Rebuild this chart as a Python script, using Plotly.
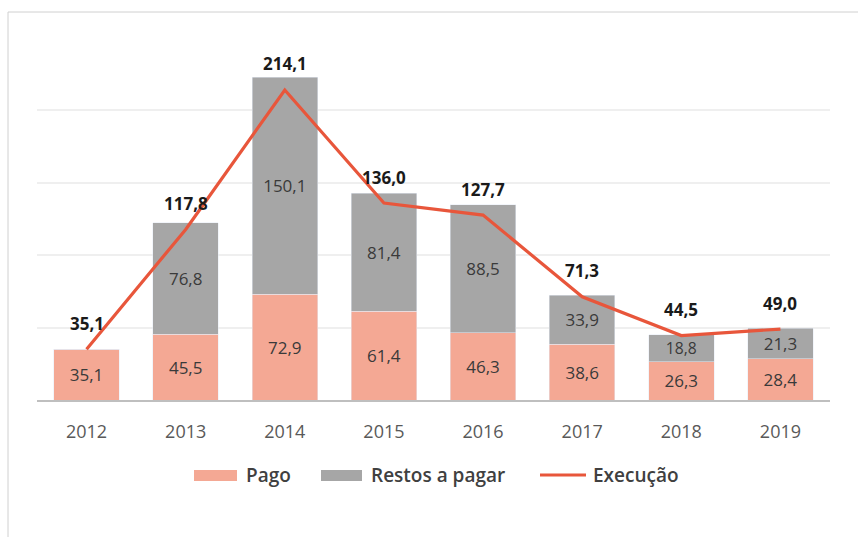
import plotly.graph_objects as go

anos = ["2012", "2013", "2014", "2015", "2016", "2017", "2018", "2019"]
pago = [35.1, 45.5, 72.9, 61.4, 46.3, 38.6, 26.3, 28.4]
restos = [0, 76.8, 150.1, 81.4, 88.5, 33.9, 18.8, 21.3]
execucao = [35.1, 117.8, 214.1, 136.0, 127.7, 71.3, 44.5, 49.0]

C_PAGO = "#F4A894"
C_RESTOS = "#A6A6A6"
C_EXEC = "#E8563B"
FONT = "Open Sans"

W, H = 858, 537
L, R, T, B = 37, 830, 38, 400


def px(x):
    return (x - L) / (R - L)


def py(y):
    return (B - y) / (B - T)


def fmt(v):
    return f"{v:.1f}".replace(".", ",")


fig = go.Figure()
fig.add_trace(go.Bar(
    x=anos, y=pago, name="Pago", marker_color=C_PAGO,
    text=[fmt(v) for v in pago], textposition="inside", insidetextanchor="middle",
    textfont=dict(family=FONT, size=17, color="#3A3A3A"), showlegend=False,
))
fig.add_trace(go.Bar(
    x=anos, y=restos, name="Restos a pagar", marker_color=C_RESTOS,
    text=[fmt(v) if v > 0 else "" for v in restos], textposition="inside",
    insidetextanchor="middle",
    textfont=dict(family=FONT, size=17, color="#3A3A3A"), showlegend=False,
))
fig.add_trace(go.Scatter(
    x=anos, y=execucao, name="Execução", mode="lines",
    line=dict(color=C_EXEC, width=3.2), showlegend=False,
))

annotations = []
for i, v in enumerate(execucao):
    annotations.append(dict(
        x=i, y=v, xref="x", yref="y", text=f"<b>{fmt(v)}</b>", showarrow=False,
        yshift=26, font=dict(family=FONT, size=17, color="#1A1A1A"),
    ))

# manual legend
leg_y = 475
shapes = [
    dict(type="rect", xref="paper", yref="paper", x0=px(8), x1=px(900),
         y0=py(600), y1=py(12), line=dict(color="#D0D0D0", width=1), layer="below"),
    dict(type="rect", xref="paper", yref="paper", x0=px(194), x1=px(237),
         y0=py(481), y1=py(470), fillcolor=C_PAGO, line=dict(width=0)),
    dict(type="rect", xref="paper", yref="paper", x0=px(321), x1=px(362),
         y0=py(481), y1=py(470), fillcolor=C_RESTOS, line=dict(width=0)),
    dict(type="line", xref="paper", yref="paper", x0=px(540), x1=px(586),
         y0=py(leg_y), y1=py(leg_y), line=dict(color=C_EXEC, width=3)),
]
for txt, xx in [("Pago", 244), ("Restos a pagar", 369), ("Execução", 591)]:
    annotations.append(dict(
        x=px(xx), y=py(leg_y), xref="paper", yref="paper", text=txt,
        showarrow=False, xanchor="left", yanchor="middle",
        font=dict(family=FONT, size=19, color="#404040", weight=600),
    ))

fig.update_layout(
    width=W, height=H,
    margin=dict(l=L, r=W - R, t=T, b=H - B),
    barmode="stack", bargap=0.34,
    plot_bgcolor="white", paper_bgcolor="white",
    font=dict(family=FONT, color="#595959"),
    annotations=annotations, shapes=shapes,
)
fig.update_xaxes(
    type="category", range=[-0.5, 7.5], showgrid=False, showline=True,
    linecolor="#BFBFBF", linewidth=1.5,
    ticks="outside", ticklen=15, tickcolor="rgba(0,0,0,0)",
    tickfont=dict(family=FONT, size=18, color="#595959"),
)
fig.update_yaxes(
    range=[0, 250], dtick=50, showgrid=True, gridcolor="#EFEFEF", gridwidth=1.5,
    showticklabels=False, zeroline=False,
)

fig.write_html(
    "out.html",
    config={"displayModeBar": False},
    post_script="document.body.style.margin='0';",
)
